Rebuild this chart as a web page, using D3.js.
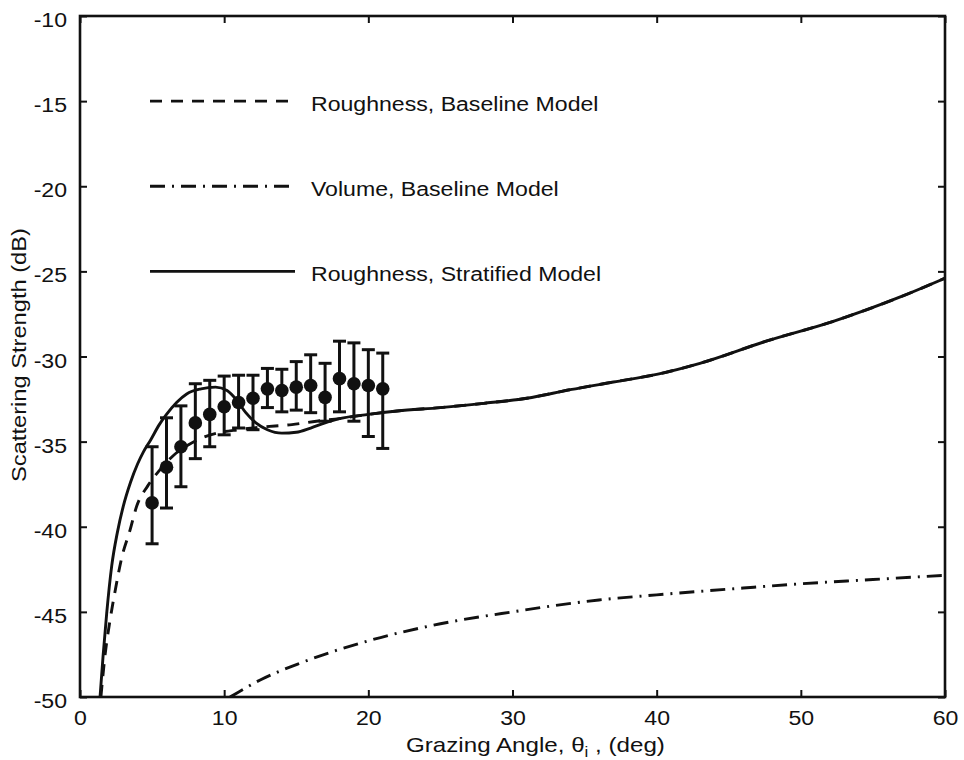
<!DOCTYPE html>
<head>
  <script src="https://d3js.org/d3.v7.min.js"></script>
  <style>
    body { margin: 0; background: #fff; }
    text { font-family: "Liberation Sans", Arial, sans-serif; fill: #111; }
  </style>
</head>

<body>
  <script>
    // measured scattering strength, mean and error bar limits (dB)
    const angles = [5, 6, 7, 8, 9, 10, 11, 12, 13, 14, 15, 16, 17, 18, 19, 20, 21];
    const meanDb = [-38.6, -36.5, -35.3, -33.9, -33.4, -32.95, -32.7, -32.45, -31.9, -32.0, -31.8, -31.7, -32.4, -31.3, -31.6, -31.7, -31.9];
    const upperDb = [-35.3, -33.6, -32.9, -31.6, -31.4, -31.15, -31.1, -31.1, -30.7, -30.75, -30.3, -29.9, -30.4, -29.1, -29.2, -29.6, -29.8];
    const lowerDb = [-41.0, -38.9, -37.65, -36.0, -35.3, -34.6, -34.2, -34.3, -33.0, -33.25, -33.15, -33.3, -33.8, -33.25, -33.8, -34.7, -35.4];

    // model curves [angle, dB]
    const stratified = [
      [1.39, -50], [1.6, -47.6], [1.85, -45.1], [2.2, -42.3], [2.6, -40.3], [3.0, -38.8],
      [3.5, -37.4], [4.0, -36.3], [4.4, -35.6], [4.9, -34.9], [5.5, -34.0], [6.0, -33.4],
      [6.7, -32.7], [7.4, -32.2], [8.4, -31.9], [9.4, -31.8], [10.2, -32.0], [10.9, -32.6],
      [11.5, -33.3], [12.2, -33.9], [13.0, -34.3], [14.0, -34.5], [15.0, -34.45], [16.0, -34.2],
      [17.0, -33.9], [18.0, -33.65], [20, -33.4], [22, -33.2], [25, -33.0], [28, -32.75],
      [31, -32.45], [34, -31.95], [37, -31.5], [40, -31.05], [43, -30.4], [47.6, -29.1],
      [52.2, -27.95], [56.9, -26.5], [60, -25.4]
    ];
    const baselineHead = [
      [1.45, -50], [1.73, -47.6], [2.08, -45.5], [2.43, -43.8], [2.9, -41.8], [3.47, -40.2],
      [3.93, -38.8], [4.7, -37.6], [5.5, -36.7], [6.5, -35.8], [7.5, -35.2], [8.4, -34.8],
      [9.5, -34.5], [11, -34.3], [12.5, -34.15], [14.7, -34.0], [16.4, -33.8], [18.0, -33.65]
    ];
    const baselineRough = baselineHead.concat(stratified.filter(d => d[0] >= 20));
    const volume = [
      [10.4, -50], [12.5, -49.0], [15.3, -48.0], [20, -46.7], [25, -45.7], [30, -45.0],
      [36, -44.3], [40, -44.0], [46, -43.6], [50, -43.35], [55, -43.1], [60, -42.85]
    ];

    const xTicks = [0, 10, 20, 30, 40, 50, 60];
    const yTicks = [-50, -45, -40, -35, -30, -25, -20, -15, -10];
    const legendLabels = ["Roughness, Baseline Model", "Volume, Baseline Model", "Roughness, Stratified Model"];
    const legendLevels = [-15, -20, -25];

    const W = 964, H = 760;
    const mLeft = 80, mRight = 945, mTop = 16, mBottom = 697;
    const stretch = 1.1;

    const svg = d3.select("body").append("svg").attr("width", W).attr("height", H);

    const x = d3.scaleLinear().domain([0, 60]).range([mLeft, mRight]);
    const y = d3.scaleLinear().domain([-50, -10]).range([mBottom, mTop]);

    svg.append("clipPath").attr("id", "plot")
      .append("rect").attr("x", mLeft).attr("y", mTop)
      .attr("width", mRight - mLeft).attr("height", mBottom - mTop);

    // axes with inward ticks
    const gx = svg.append("g").attr("transform", `translate(0,${mBottom})`)
      .call(d3.axisBottom(x).tickValues(xTicks).tickSizeInner(-7).tickSizeOuter(0)
        .tickPadding(13).tickFormat(d => String(d)));
    gx.selectAll("text").attr("transform", `scale(${stretch},1)`);

    const gy = svg.append("g").attr("transform", `translate(${mLeft},0)`)
      .call(d3.axisLeft(y).tickValues(yTicks).tickSizeInner(-7).tickSizeOuter(0)
        .tickPadding(13).tickFormat(d => String(d)));
    gy.selectAll("text").attr("x", -13 / stretch).attr("dy", "0.5em")
      .attr("transform", `scale(${stretch},1)`);

    svg.append("g").attr("transform", `translate(0,${mTop})`)
      .call(d3.axisTop(x).tickValues(xTicks).tickSizeInner(-7).tickSizeOuter(0).tickFormat(""));
    svg.append("g").attr("transform", `translate(${mRight},0)`)
      .call(d3.axisRight(y).tickValues(yTicks).tickSizeInner(-7).tickSizeOuter(0).tickFormat(""));

    svg.selectAll(".domain").remove();
    svg.selectAll(".tick line").attr("stroke", "#111").attr("stroke-width", 2);
    svg.selectAll(".tick text").attr("font-size", 21).style("font-family", "Liberation Sans, Arial, sans-serif");

    svg.append("rect")
      .attr("x", mLeft).attr("y", mTop).attr("width", mRight - mLeft).attr("height", mBottom - mTop)
      .attr("fill", "none").attr("stroke", "#111").attr("stroke-width", 2.6);

    // curves
    const line = d3.line().x(d => x(d[0])).y(d => y(d[1])).curve(d3.curveMonotoneX);
    const curves = svg.append("g").attr("clip-path", "url(#plot)")
      .attr("fill", "none").attr("stroke", "#111").attr("stroke-width", 2.9);
    curves.append("path").datum(baselineRough).attr("d", line).attr("stroke-dasharray", "12,9");
    curves.append("path").datum(volume).attr("d", line).attr("stroke-dasharray", "15,7,2,7");
    curves.append("path").datum(stratified).attr("d", line);

    // measured data with error bars
    const pts = svg.append("g");
    const bars = pts.selectAll("g").data(angles).join("g");
    bars.append("line")
      .attr("x1", d => x(d)).attr("x2", d => x(d))
      .attr("y1", (d, i) => y(upperDb[i])).attr("y2", (d, i) => y(lowerDb[i]))
      .attr("stroke", "#111").attr("stroke-width", 3);
    bars.append("line")
      .attr("x1", d => x(d) - 6.5).attr("x2", d => x(d) + 6.5)
      .attr("y1", (d, i) => y(upperDb[i])).attr("y2", (d, i) => y(upperDb[i]))
      .attr("stroke", "#111").attr("stroke-width", 3);
    bars.append("line")
      .attr("x1", d => x(d) - 6.5).attr("x2", d => x(d) + 6.5)
      .attr("y1", (d, i) => y(lowerDb[i])).attr("y2", (d, i) => y(lowerDb[i]))
      .attr("stroke", "#111").attr("stroke-width", 3);
    bars.append("circle")
      .attr("cx", d => x(d)).attr("cy", (d, i) => y(meanDb[i]))
      .attr("r", 6.8).attr("fill", "#111");

    // legend
    const dashes = ["12,9", "15,7,2,7", null];
    const leg = svg.append("g");
    legendLabels.forEach((lab, i) => {
      const ly = y(legendLevels[i]);
      leg.append("line")
        .attr("x1", 150).attr("x2", 295).attr("y1", ly).attr("y2", ly)
        .attr("stroke", "#111").attr("stroke-width", 2.9)
        .attr("stroke-dasharray", dashes[i]);
      leg.append("text")
        .attr("transform", `translate(311,${ly + 9.5}) scale(${stretch},1)`)
        .attr("font-size", 21)
        .text(lab);
    });

    // axis titles
    const xt = svg.append("text").attr("font-size", 20);
    xt.append("tspan").text("Grazing Angle, \u03b8");
    xt.append("tspan").attr("font-size", 14).attr("dy", 5).text("i");
    xt.append("tspan").attr("dy", -5).text(" , (deg)");
    const kx = 259 / xt.node().getComputedTextLength();
    xt.attr("transform", `translate(406,752) scale(${kx},1)`);

    const yt = svg.append("text").attr("font-size", 20).attr("text-anchor", "middle")
      .text("Scattering Strength (dB)");
    const ky = 254 / yt.node().getComputedTextLength();
    yt.attr("transform", `translate(26,355) rotate(-90) scale(${ky},1)`);
  </script>
</body>
